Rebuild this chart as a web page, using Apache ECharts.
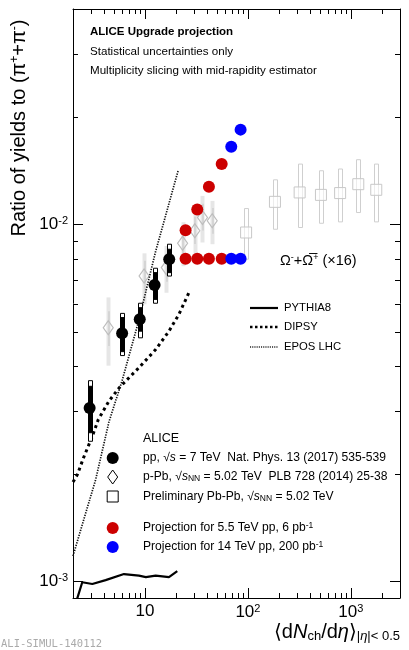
<!DOCTYPE html>
<html>
<head>
<meta charset="utf-8">
<script src="https://cdn.jsdelivr.net/npm/echarts@6/dist/echarts.min.js"></script>
<style>
html, body { margin: 0; padding: 0; background: #fff; }
#chart { width: 409px; height: 650px; }
</style>
</head>
<body>
<div id="chart"></div>
<script>
// axis ranges and tick labels
var X_MIN = 2, X_MAX = 3000;
var Y_MIN = 0.0009, Y_MAX = 0.04;
var xTickVals = [10, 100, 1000];
var xTickLabels = ['10', '10{sup|2}', '10{sup|3}'];
var yTickVals = [0.001, 0.01];
var yTickLabels = ['10{sup|-3}', '10{sup|-2}'];
var xMinorTicks = [3, 4, 5, 6, 7, 8, 9, 20, 30, 40, 50, 60, 70, 80, 90, 200, 300, 400, 500, 600, 700, 800, 900, 2000];
var yMinorTicks = [0.002, 0.003, 0.004, 0.005, 0.006, 0.007, 0.008, 0.009, 0.02, 0.03];

// pp 7 TeV (Nat. Phys. 13 (2017))
var ppX = [2.9, 6.0, 8.9, 12.4, 17.2];
var ppY = [0.00306, 0.00495, 0.00542, 0.00676, 0.00798];
var ppStatLo = [0.00261, 0.00440, 0.00502, 0.00616, 0.00732];
var ppStatHi = [0.00352, 0.00548, 0.00584, 0.00732, 0.00851];
var ppSysLo = [0.00247, 0.00429, 0.00481, 0.00601, 0.00716];
var ppSysHi = [0.00365, 0.00563, 0.00601, 0.00753, 0.00879];

// p-Pb 5.02 TeV
var pPbX = [4.4, 9.8, 16.1, 23.2, 30.5, 36.2, 45];
var pPbY = [0.00513, 0.00716, 0.00756, 0.00885, 0.00958, 0.01044, 0.01022];
var pPbSysLo = [0.00402, 0.00597, 0.00643, 0.00763, 0.00813, 0.00889, 0.00879];
var pPbSysHi = [0.00624, 0.00829, 0.00869, 0.01013, 0.0110, 0.0120, 0.01162];
var pPbStatLo = [0.00456, 0.0065, 0.0069, 0.0081, 0.0088, 0.0096, 0.0094];
var pPbStatHi = [0.00571, 0.0079, 0.0083, 0.0097, 0.0105, 0.0114, 0.0111];

// Pb-Pb 5.02 TeV preliminary
var pbpbX = [96, 183, 318, 512, 786, 1180, 1764];
var pbpbY = [0.00948, 0.01155, 0.01227, 0.01208, 0.01222, 0.01294, 0.01248];
var pbpbLo = [0.00798, 0.00968, 0.00979, 0.01006, 0.01015, 0.01078, 0.01015];
var pbpbHi = [0.01106, 0.01331, 0.01473, 0.01411, 0.01427, 0.01515, 0.01473];

// projections
var proj55X = [24.8, 32.2, 41.8, 55.6];
var proj55Flat = [0.0080, 0.0080, 0.0080, 0.0080];
var proj55Rise = [0.00962, 0.0110, 0.01272, 0.01473];
var proj14X = [68.9, 84.9];
var proj14Flat = [0.0080, 0.0080];
var proj14Rise = [0.01647, 0.01839];

// models
var pythiaX = [2.08, 2.20, 2.46, 3.08, 4.15, 6.25, 8.74, 10.2, 12.7, 17.1, 20.6];
var pythiaY = [0.000851, 0.000898, 0.000996, 0.000985, 0.00101, 0.00105, 0.00104, 0.00103, 0.00104, 0.00103, 0.00107];
var dipsyX = [2.0, 2.2, 2.56, 3.08, 3.52, 4.47, 5.59, 6.5, 8.74, 12.7, 17.1, 21.4, 26.7];
var dipsyY = [0.00190, 0.00199, 0.00224, 0.00255, 0.00284, 0.00320, 0.00348, 0.00364, 0.00397, 0.00446, 0.00502, 0.00560, 0.00643];
var eposX = [2.0, 3.32, 4.47, 6.0, 8.74, 12.7, 21.0];
var eposY = [0.00118, 0.00193, 0.00280, 0.00365, 0.00540, 0.00840, 0.01411];

var FONT = '"Liberation Sans", Arial, "DejaVu Sans", sans-serif';

function zip(xs, ys) {
    return xs.map(function (x, i) { return [x, ys[i]]; });
}

// vertical band from lo to hi, w pixels wide
function bandSeries(xs, lo, hi, w, fill, stroke, z) {
    return {
        type: 'custom', z: z, silent: true,
        data: xs.map(function (x, i) { return [x, lo[i], hi[i]]; }),
        encode: { x: 0, y: [1, 2] },
        renderItem: function (params, api) {
            var t = api.coord([api.value(0), api.value(2)]);
            var b = api.coord([api.value(0), api.value(1)]);
            return {
                type: 'rect',
                shape: { x: Math.round(t[0] - w / 2) + 0.5, y: t[1], width: w, height: b[1] - t[1] },
                style: { fill: fill, stroke: stroke, lineWidth: 1 }
            };
        }
    };
}

// minor ticks on all four sides
function minorTickSeries(vals, isX) {
    return {
        type: 'custom', z: 10, silent: true,
        data: vals.map(function (v) { return [v]; }),
        encode: isX ? { x: 0 } : { y: 0 },
        renderItem: function (params, api) {
            var v = api.value(0), a, b, len = 5;
            if (isX) {
                a = api.coord([v, Y_MIN]);
                b = api.coord([v, Y_MAX]);
                var x = Math.round(a[0]) + 0.5;
                return { type: 'group', children: [
                    { type: 'line', shape: { x1: x, y1: a[1], x2: x, y2: a[1] - len }, style: { stroke: '#000', lineWidth: 1 } },
                    { type: 'line', shape: { x1: x, y1: b[1], x2: x, y2: b[1] + len }, style: { stroke: '#000', lineWidth: 1 } }
                ] };
            }
            a = api.coord([X_MIN, v]);
            b = api.coord([X_MAX, v]);
            var y = Math.round(a[1]) + 0.5;
            return { type: 'group', children: [
                { type: 'line', shape: { x1: a[0], y1: y, x2: a[0] + len, y2: y }, style: { stroke: '#000', lineWidth: 1 } },
                { type: 'line', shape: { x1: b[0], y1: y, x2: b[0] - len, y2: y }, style: { stroke: '#000', lineWidth: 1 } }
            ] };
        }
    };
}

function tickLabel(vals, labels) {
    return function (v) {
        for (var i = 0; i < vals.length; i++) {
            if (Math.abs(Math.log10(v) - Math.log10(vals[i])) < 1e-6) return labels[i];
        }
        return '';
    };
}

var axisCommon = {
    type: 'log', logBase: 10,
    axisLine: { show: true, onZero: false, lineStyle: { color: '#000', width: 1 } },
    axisTick: { show: true, inside: true, length: 10, lineStyle: { color: '#000', width: 1 } },
    splitLine: { show: false },
    minorTick: { show: false }
};

var supRich = {
    sup: { fontSize: 11, fontFamily: FONT, color: '#000', verticalAlign: 'top', padding: [0, 0, 7, 0] }
};

var myChart = echarts.init(document.getElementById('chart'), null, { renderer: 'canvas' });

var option = {
    animation: false,
    backgroundColor: '#fff',
    grid: { left: 73, right: 9, top: 9, bottom: 52 }
};

option.xAxis = [
    Object.assign({}, axisCommon, {
        min: X_MIN, max: X_MAX, position: 'bottom',
        axisLabel: { margin: 5, fontSize: 17, fontFamily: FONT, color: '#000', formatter: tickLabel(xTickVals, xTickLabels), rich: supRich, showMinLabel: false, showMaxLabel: false }
    }),
    Object.assign({}, axisCommon, {
        min: X_MIN, max: X_MAX, position: 'top', axisLabel: { show: false }
    })
];
option.yAxis = [
    Object.assign({}, axisCommon, {
        min: Y_MIN, max: Y_MAX, position: 'left',
        axisLabel: { margin: 5, fontSize: 17, fontFamily: FONT, color: '#000', formatter: tickLabel(yTickVals, yTickLabels), rich: supRich, showMinLabel: false, showMaxLabel: false }
    }),
    Object.assign({}, axisCommon, {
        min: Y_MIN, max: Y_MAX, position: 'right', axisLabel: { show: false }
    })
];

option.series = [
    minorTickSeries(xMinorTicks, true),
    minorTickSeries(yMinorTicks, false),
    // Pb-Pb
    bandSeries(pbpbX, pbpbLo, pbpbHi, 4, 'rgba(255,255,255,0)', '#cfcfcf', 2),
    {
        type: 'scatter', z: 3, silent: true, data: zip(pbpbX, pbpbY),
        symbol: 'rect', symbolSize: 11,
        itemStyle: { color: 'rgba(255,255,255,0.6)', borderColor: '#c8c8c8', borderWidth: 1, opacity: 1 }
    },
    // p-Pb
    bandSeries(pPbX, pPbSysLo, pPbSysHi, 4, '#e6e6e6', null, 2),
    bandSeries(pPbX, pPbStatLo, pPbStatHi, 1, '#c4c4c4', null, 2),
    {
        type: 'scatter', z: 3, silent: true, data: zip(pPbX, pPbY),
        symbol: 'diamond', symbolSize: [10, 14],
        itemStyle: { color: 'rgba(255,255,255,0)', borderColor: '#bdbdbd', borderWidth: 1.2, opacity: 1 }
    },
    // models
    {
        type: 'line', z: 4, silent: true, data: zip(pythiaX, pythiaY), showSymbol: false, clip: true,
        lineStyle: { color: '#000', width: 2.2 }
    },
    {
        type: 'line', z: 4, silent: true, data: zip(dipsyX, dipsyY), showSymbol: false, clip: true,
        lineStyle: { color: '#000', width: 3, type: [3, 3.5] }
    },
    {
        type: 'line', z: 4, silent: true, data: zip(eposX, eposY), showSymbol: false, clip: true,
        lineStyle: { color: '#111', width: 1.7, type: [1.3, 1.3] }
    },
    // pp 7 TeV
    bandSeries(ppX, ppSysLo, ppSysHi, 4, '#fff', '#000', 5),
    bandSeries(ppX, ppStatLo, ppStatHi, 4, '#000', '#000', 5),
    {
        type: 'scatter', z: 6, silent: true, data: zip(ppX, ppY),
        symbol: 'circle', symbolSize: 12, itemStyle: { color: '#000', opacity: 1 }
    },
    // projections
    {
        type: 'scatter', z: 7, silent: true, data: zip(proj55X, proj55Flat).concat(zip(proj55X, proj55Rise)),
        symbol: 'circle', symbolSize: 12, itemStyle: { color: '#cc0000', opacity: 1 }
    },
    {
        type: 'scatter', z: 7, silent: true, data: zip(proj14X, proj14Flat).concat(zip(proj14X, proj14Rise)),
        symbol: 'circle', symbolSize: 12, itemStyle: { color: '#0000ff', opacity: 1 }
    }
];

// text and legends
var LS = 12.1;
var txtRich = {
    n: { fontFamily: FONT, fontSize: LS, color: '#000' },
    it: { fontFamily: FONT, fontSize: LS, fontStyle: 'italic', color: '#000' },
    sub: { fontFamily: FONT, fontSize: 8.5, color: '#000', verticalAlign: 'bottom', padding: [4, 0, 0, 0] },
    sup: { fontFamily: FONT, fontSize: 8.5, color: '#000', verticalAlign: 'top', padding: [0, 0, 5, 0] }
};

function label(x, y, text, size, extra) {
    return Object.assign({
        type: 'text', x: x, y: y, silent: true,
        style: { text: text, fontFamily: FONT, fontSize: size, fill: '#000', verticalAlign: 'middle', align: 'left', rich: txtRich }
    }, extra || {});
}

var legX = 112.7, legTx = 143;
option.graphic = [
    label(90, 32, '', 11.5, { style: { text: 'ALICE Upgrade projection', fontFamily: FONT, fontSize: 11.5, fontWeight: 'bold', fill: '#000', verticalAlign: 'middle' } }),
    label(90, 52, 'Statistical uncertainties only', 11.6),
    label(90, 71, 'Multiplicity slicing with mid-rapidity estimator', 11.6),

    // model legend
    { type: 'line', silent: true, shape: { x1: 250, y1: 308, x2: 278, y2: 308 }, style: { stroke: '#000', lineWidth: 2.2 } },
    { type: 'line', silent: true, shape: { x1: 250, y1: 327, x2: 278, y2: 327 }, style: { stroke: '#000', lineWidth: 2.5, lineDash: [2.5, 2.5] } },
    { type: 'line', silent: true, shape: { x1: 250, y1: 347, x2: 278, y2: 347 }, style: { stroke: '#222', lineWidth: 1.4, lineDash: [1.1, 1.1] } },
    label(284, 308, 'PYTHIA8', 11.3),
    label(284, 327, 'DIPSY', 11.3),
    label(284, 347, 'EPOS LHC', 11.3),

    // Omega label
    {
        type: 'text', x: 280, y: 261, silent: true,
        style: {
            text: 'Ω{s|-}+Ω̅{s|+} (×16)', fontFamily: FONT, fontSize: 14.5, fill: '#000', verticalAlign: 'middle',
            rich: { s: { fontFamily: FONT, fontSize: 9, verticalAlign: 'top', padding: [0, 0, 6, 0] } }
        }
    },

    // ALICE data legend
    label(legTx, 439, 'ALICE', 12.5),
    { type: 'circle', silent: true, shape: { cx: legX, cy: 458, r: 6 }, style: { fill: '#000' } },
    label(legTx, 458, '{n|pp, √}{it|s}{n| = 7 TeV  Nat. Phys. 13 (2017) 535-539}', LS),
    { type: 'polygon', silent: true, shape: { points: [[legX, 470], [legX + 5, 477], [legX, 484], [legX - 5, 477]] }, style: { fill: '#fff', stroke: '#000', lineWidth: 1 } },
    label(legTx, 477, '{n|p-Pb, √}{it|s}{sub|NN}{n| = 5.02 TeV  PLB 728 (2014) 25-38}', LS),
    { type: 'rect', silent: true, shape: { x: legX - 5.5, y: 491, width: 11, height: 11 }, style: { fill: '#fff', stroke: '#000', lineWidth: 1 } },
    label(legTx, 497, '{n|Preliminary Pb-Pb, √}{it|s}{sub|NN}{n| = 5.02 TeV}', LS),
    { type: 'circle', silent: true, shape: { cx: legX, cy: 528, r: 6 }, style: { fill: '#cc0000' } },
    label(legTx, 528, '{n|Projection for 5.5 TeV pp, 6 pb}{sup|-1}', LS),
    { type: 'circle', silent: true, shape: { cx: legX, cy: 547, r: 6 }, style: { fill: '#0000ff' } },
    label(legTx, 547, '{n|Projection for 14 TeV pp, 200 pb}{sup|-1}', LS),

    // axis titles
    {
        type: 'text', x: 19, y: 128, rotation: Math.PI / 2, silent: true,
        style: {
            text: 'Ratio of yields to (π{s|+}+π{s|-})', fontFamily: FONT, fontSize: 20, fill: '#000',
            align: 'center', verticalAlign: 'middle',
            rich: { s: { fontFamily: FONT, fontSize: 12, verticalAlign: 'top', padding: [0, 0, 8, 0] } }
        }
    },
    {
        type: 'text', x: 400, y: 632, silent: true,
        style: {
            text: '⟨d{i|N}{sb|ch}/d{i|η}⟩{sb||}{si|η}{sb||< 0.5}', fontFamily: FONT, fontSize: 20, fill: '#000',
            align: 'right', verticalAlign: 'middle',
            rich: {
                i: { fontFamily: FONT, fontSize: 20, fontStyle: 'italic' },
                sb: { fontFamily: FONT, fontSize: 13, verticalAlign: 'bottom', padding: [8, 0, 0, 0] },
                si: { fontFamily: FONT, fontSize: 13, fontStyle: 'italic', verticalAlign: 'bottom', padding: [8, 0, 0, 0] }
            }
        }
    },
    {
        type: 'text', x: 1, y: 644, silent: true,
        style: { text: 'ALI-SIMUL-140112', fontFamily: '"DejaVu Sans Mono", "Liberation Mono", monospace', fontSize: 10.5, fill: '#aaa', verticalAlign: 'middle' }
    }
];

myChart.setOption(option);
</script>
</body>
</html>
